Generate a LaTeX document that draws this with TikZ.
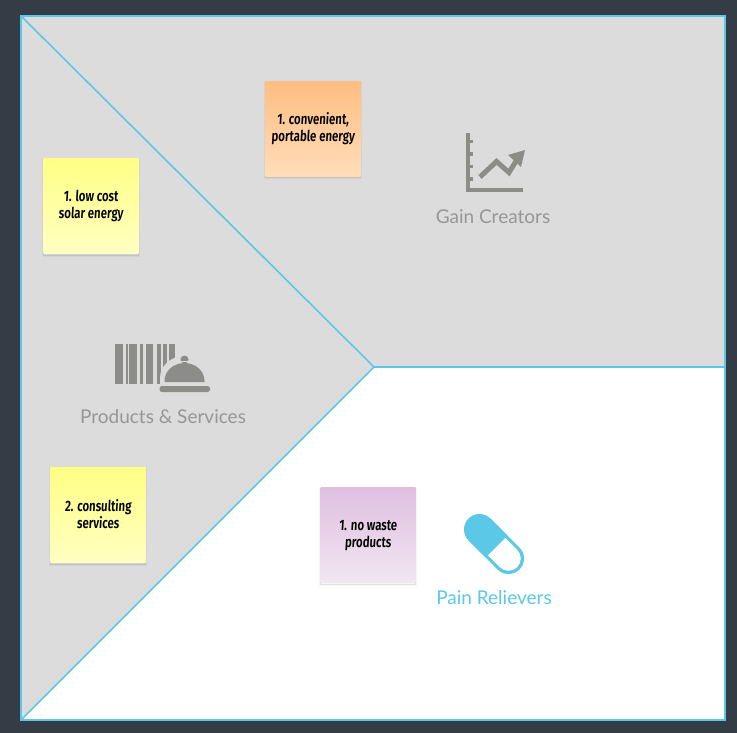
\documentclass[tikz,border=0pt]{standalone}
\usepackage{fontspec}
\setmainfont{Lato}
\newfontfamily\notefont[FakeStretch=0.76,FakeSlant=0.06]{Fira Sans SemiBold}
\newcommand{\notelines}[2]{\rule{0pt}{12pt}#1\\#2\rule[-3pt]{0pt}{3pt}}
\definecolor{pagebg}{HTML}{343C46}
\definecolor{panel}{HTML}{DCDCDC}
\definecolor{edgeblue}{HTML}{5BC8E8}
\definecolor{icongray}{HTML}{8C8C88}
\definecolor{labelgray}{HTML}{969696}
\definecolor{ytop}{HTML}{FFFF85}
\definecolor{ybot}{HTML}{FFFFC2}
\definecolor{otop}{HTML}{FFBE82}
\definecolor{obot}{HTML}{FFDDB8}
\definecolor{ptop}{HTML}{DFBFE0}
\definecolor{pbot}{HTML}{F1E6F2}
\tikzset{
  notebox/.style={minimum width=95pt,minimum height=95pt,inner sep=0pt,align=center,
    font=\notefont\fontsize{15}{17}\selectfont,text=black,
    preaction={draw=black,draw opacity=0.04,line width=3pt,transform canvas={yshift=-1.5pt}},
    preaction={draw=black,draw opacity=0.08,line width=1pt,transform canvas={yshift=-1.5pt}}},
  yellownote/.style={notebox,top color=ytop,bottom color=ybot},
  orangenote/.style={notebox,top color=otop,bottom color=obot},
  purplenote/.style={notebox,top color=ptop,bottom color=pbot},
  caption/.style={font=\fontsize{19}{22}\selectfont,text=labelgray},
  frameline/.style={draw=edgeblue,line width=1.6pt}
}
\begin{document}
\begin{tikzpicture}[x=1pt,y=-1pt]
\useasboundingbox (0,0) rectangle (737,733);
\fill[pagebg] (0,0) rectangle (737,733);
% panels
\coordinate (tl) at (21,16);
\coordinate (tr) at (725,16);
\coordinate (br) at (725,720);
\coordinate (bl) at (21,720);
\coordinate (mid) at (374,367);
\coordinate (re) at (725,367);
\fill[white] (tl) rectangle (br);
\fill[panel] (tl) -- (tr) -- (re) -- (mid) -- (bl) -- cycle;
\draw[frameline] (tl) -- (tr) -- (br) -- (bl) -- cycle;
\draw[frameline] (tl) -- (mid) -- (bl);
\draw[frameline] (mid) -- (re);
% gain icon
\fill[icongray] (465.7,133) rectangle (469.5,192);
\fill[icongray] (465.7,188.3) rectangle (523.3,192);
\foreach \ty in {141.7,154,166.7,179}
  \fill[icongray] (468,\ty-1.6) rectangle (473,\ty+1.6);
\draw[icongray,line width=5pt,line join=miter] (480,177) -- (496.5,161.5) -- (509,172.5) -- (518,158);
\fill[icongray] (525,150) -- (508,155) -- (521,167) -- cycle;
% barcode icon
\foreach \xa/\xb in {115/122.7,125.7/127.7,129.3/136.7,140/143.3,145.7/153.3,157.3/160.7,163/166.7,168.7/175.3}
  \fill[icongray] (\xa,343.5) rectangle (\xb,383.5);
\fill[panel] (160,386) -- (160,378) arc[start angle=180,end angle=0,x radius=24.5,y radius=-22] -- (209,386) -- cycle;
\fill[icongray] (164.5,382) -- (164.5,381) arc[start angle=180,end angle=0,x radius=20,y radius=-18] -- (204.5,382) -- cycle;
\fill[icongray] (184.5,359.5) circle[radius=4];
\fill[panel] (176,360.5) rectangle (193,362.3);
\fill[icongray,rounded corners=2.5pt] (159.5,386) rectangle (210,392);
% pill icon
\draw[edgeblue,line width=31pt,line cap=round] (479.5,529.5) -- (508.5,558.5);
\draw[white,line width=24.5pt,line cap=round] (496,546) -- (508.5,558.5);
\draw[edgeblue,line width=31pt,line cap=butt] (479.5,529.5) -- (496.5,546.5);
% notes
\node[orangenote] (orange) at (313,129) {\notelines{1. convenient,}{portable energy}};
\node[yellownote] (yellowa) at (91,206) {\notelines{1. low cost}{solar energy}};
\node[yellownote] (yellowb) at (98,515) {\notelines{2. consulting}{services}};
\node[purplenote] (purple) at (368,535) {\notelines{1. no waste}{products}};
% captions
\node[caption] (gain) at (493,217) {Gain Creators};
\node[caption] (prod) at (163,417) {Products \& Services};
\node[caption,text=edgeblue] (pain) at (494,598) {Pain Relievers};
\end{tikzpicture}
\end{document}
